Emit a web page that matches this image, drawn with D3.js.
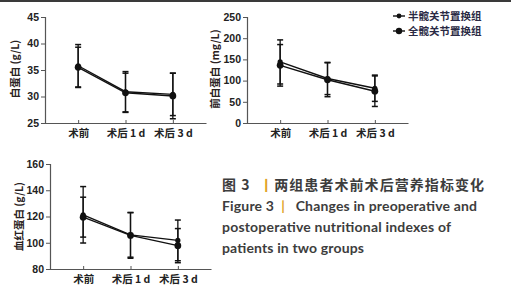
<!DOCTYPE html>
<html><head><meta charset="utf-8">
<script src="https://cdn.jsdelivr.net/npm/d3@7/dist/d3.min.js"></script>
<style>body{margin:0;background:#fff}svg{display:block}text{white-space:pre}</style>
</head><body>
<svg id="c" width="511" height="300"></svg>
<script>
const categories = ["术前", "术后 1 d", "术后 3 d"];
const seriesNames = ["半髋关节置换组", "全髋关节置换组"];

// 白蛋白 (g/L)
const albMean = [[35.8, 30.9, 30.4], [35.5, 30.7, 30.1]];
const albSD   = [[4.0, 3.8, 4.0], [3.8, 3.7, 4.3]];
const albTicks = [25, 30, 35, 40, 45];

// 前白蛋白 (mg/L)
const preMean = [[144, 105, 82], [136, 102, 75]];
const preSD   = [[52, 38, 31], [49, 40, 36]];
const preTicks = [0, 50, 100, 150, 200, 250];

// 血红蛋白 (g/L)
const hbMean = [[121.3, 106.0, 101.8], [119.5, 105.6, 97.8]];
const hbSD   = [[21.5, 17.0, 15.5], [15.2, 17.4, 13.0]];
const hbTicks = [80, 100, 120, 140, 160];

const svg = d3.select("#c");
svg.append("rect").attr("x",0).attr("y",0).attr("width",511).attr("height",2).attr("fill","#3a3a3a");

const latin = "'Liberation Sans', Arial, sans-serif";
const cjk = "'Noto Sans CJK SC', sans-serif";

function panel(cfg) {
  const g = svg.append("g");
  const x = d3.scalePoint().domain(categories).range([cfg.x0, cfg.x1]).padding(0.7);
  const y = d3.scaleLinear().domain([cfg.ticks[0], cfg.ticks[cfg.ticks.length-1]]).range([cfg.yb, cfg.yt]);

  const ya = g.append("g").attr("transform", `translate(${cfg.x0},0)`)
    .call(d3.axisLeft(y).tickValues(cfg.ticks).tickSize(4).tickPadding(2));
  ya.select(".domain").attr("stroke", "#555").attr("stroke-width", 1.2);
  ya.selectAll(".tick line").attr("stroke", "#555");
  ya.selectAll("text").attr("font-family", latin).attr("font-weight", "bold")
    .attr("font-size", 10.5).attr("fill", "#222");

  const xa = g.append("g").attr("transform", `translate(0,${cfg.yb})`)
    .call(d3.axisBottom(x).tickSizeInner(-3).tickSizeOuter(0).tickPadding(7));
  xa.select(".domain").attr("stroke", "#555").attr("stroke-width", 1.2);
  xa.selectAll(".tick line").attr("stroke", "#555");
  xa.selectAll("text").attr("font-family", cjk).attr("font-weight", "bold")
    .attr("font-size", 10.5).attr("fill", "#222");

  g.append("text")
    .attr("transform", `translate(${cfg.tx},${(cfg.yt + cfg.yb) / 2 + cfg.tdy}) rotate(-90)`)
    .attr("text-anchor", "middle").attr("font-family", cjk).attr("font-size", 10.5)
    .attr("font-weight", "bold").attr("fill", "#2a2222").text(cfg.title);

  cfg.means.forEach((m, s) => {
    const sd = cfg.sds[s];
    const line = d3.line().x((d, i) => x(categories[i])).y(d => y(d));
    g.append("path").datum(m).attr("d", line).attr("fill", "none")
      .attr("stroke", "#111").attr("stroke-width", 1.4);
    m.forEach((v, i) => {
      const cx = x(categories[i]);
      g.append("line").attr("x1", cx).attr("x2", cx).attr("y1", y(v + sd[i])).attr("y2", y(v - sd[i]))
        .attr("stroke", "#111").attr("stroke-width", 1.3);
      [v + sd[i], v - sd[i]].forEach(e => {
        g.append("line").attr("x1", cx - 3).attr("x2", cx + 3).attr("y1", y(e)).attr("y2", y(e))
          .attr("stroke", "#111").attr("stroke-width", 1.5);
      });
      g.append("circle").attr("cx", cx).attr("cy", y(v)).attr("r", s === 0 ? 2.6 : 3.4).attr("fill", "#111");
    });
  });
}

panel({x0: 45, x1: 206, yt: 17, yb: 123, ticks: albTicks, means: albMean, sds: albSD,
  title: "白蛋白 (g/L)", tx: 19, tdy: -1});
panel({x0: 247, x1: 408, yt: 17, yb: 123, ticks: preTicks, means: preMean, sds: preSD,
  title: "前白蛋白 (mg/L)", tx: 219, tdy: -1});
panel({x0: 50, x1: 211, yt: 164, yb: 269, ticks: hbTicks, means: hbMean, sds: hbSD,
  title: "血红蛋白 (g/L)", tx: 23, tdy: 0});

// legend
const lg = svg.append("g");
seriesNames.forEach((n, i) => {
  const yy = 16 + i * 15;
  lg.append("line").attr("x1", 393).attr("x2", 405).attr("y1", yy).attr("y2", yy)
    .attr("stroke", "#111").attr("stroke-width", 1.4);
  lg.append("circle").attr("cx", 399).attr("cy", yy).attr("r", i === 0 ? 2.4 : 3.2).attr("fill", "#111");
  lg.append("text").attr("x", 408).attr("y", yy + 3.5).attr("font-family", cjk).attr("font-size", 10.5)
    .attr("font-weight", "bold").attr("fill", "#2a2a44").text(n);
});

// caption
const cap = svg.append("g").attr("fill", "#3d3d3d");
const t1 = cap.append("text").attr("x", 222).attr("y", 190).attr("font-family", cjk)
  .attr("font-size", 14).attr("font-weight", "bold")
  .attr("textLength", 262).attr("lengthAdjust", "spacing");
t1.append("tspan").text("图 3  ");
t1.append("tspan").attr("fill", "#e0a020").text("丨");
t1.append("tspan").text("两组患者术前术后营养指标变化");

const eng = ["Figure 3  |   Changes in preoperative and", "postoperative nutritional indexes of", "patients in two groups"];
const engLen = [255, 229, 142];
eng.forEach((l, i) => {
  const t = cap.append("text").attr("x", 222).attr("y", 211 + i * 21).attr("font-family", "Lato, sans-serif")
    .attr("font-size", 14).attr("font-weight", "bold")
    .attr("textLength", engLen[i]).attr("lengthAdjust", "spacing");
  if (i === 0) {
    t.append("tspan").text("Figure 3  ");
    t.append("tspan").attr("fill", "#e0a020").text("|");
    t.append("tspan").text("   Changes in preoperative and");
  } else t.text(l);
});
</script>
</body></html>
